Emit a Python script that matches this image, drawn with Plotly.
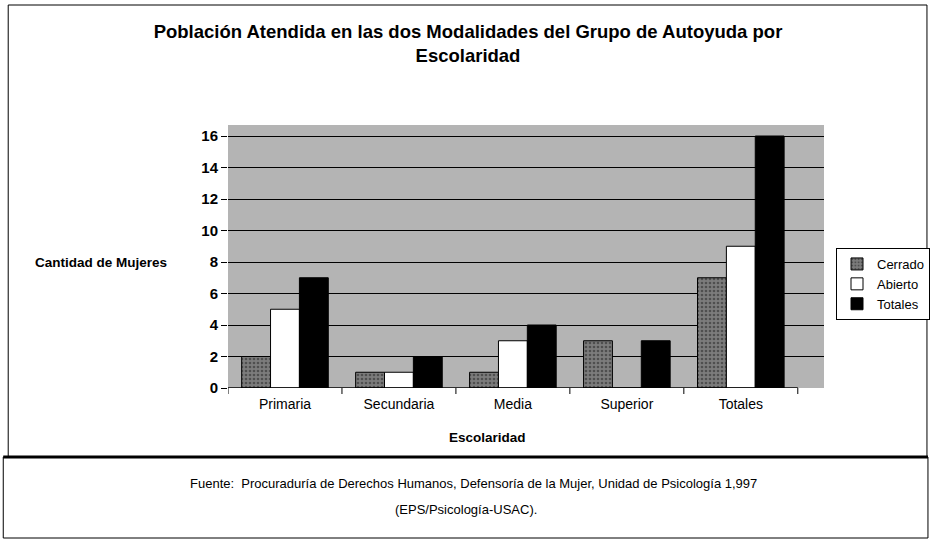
import plotly.graph_objects as go

categories = ["Primaria", "Secundaria", "Media", "Superior", "Totales"]
cerrado = [2, 1, 1, 3, 7]
abierto = [5, 1, 3, 0, 9]
totales = [7, 2, 4, 3, 16]
y_ticks = [0, 2, 4, 6, 8, 10, 12, 14, 16]

W, H = 936, 540
L, R, T, B = 228, 106, 125, 152
PW, PH = W - L - R, H - T - B
Y_TOP = PH / 15.75


def px(x):
    return (x - L) / PW


def py(y):
    return 1 - (y - T) / PH


FONT = "Arial, Liberation Sans, sans-serif"

fig = go.Figure()
fig.add_trace(go.Bar(
    name="Cerrado", x=categories, y=cerrado,
    marker=dict(color="#7c7c7c", line=dict(color="black", width=1),
                pattern=dict(shape=".", fgcolor="#222222", size=4, solidity=0.35)),
))
fig.add_trace(go.Bar(
    name="Abierto", x=categories, y=abierto,
    marker=dict(color="white", line=dict(color="black", width=1)),
))
fig.add_trace(go.Bar(
    name="Totales", x=categories, y=totales,
    marker=dict(color="black", line=dict(color="black", width=1)),
))

shapes = [
    # outer border
    dict(type="rect", xref="paper", yref="paper", x0=px(6), x1=px(934), y0=py(457), y1=py(5),
         line=dict(color="black", width=1), layer="below"),
    # source box
    dict(type="rect", xref="paper", yref="paper", x0=px(1), x1=px(935), y0=py(538), y1=py(457),
         line=dict(color="black", width=1), layer="below"),
    dict(type="line", xref="paper", yref="paper", x0=px(1), x1=px(935), y0=py(457), y1=py(457),
         line=dict(color="black", width=3)),
    # x axis line
    dict(type="line", xref="x", yref="y", x0=-0.5, x1=4.5, y0=0, y1=0,
         line=dict(color="black", width=1.5)),
]
for i in range(6):
    shapes.append(dict(type="line", xref="x", yref="paper", x0=i - 0.5, x1=i - 0.5,
                       y0=py(388), y1=py(394), line=dict(color="black", width=1)))

annotations = [
    dict(text="<b>Cantidad de Mujeres</b>", xref="paper", yref="paper", x=px(100), y=py(262),
         xanchor="center", yanchor="middle",
         showarrow=False, font=dict(size=13.5, color="black", family=FONT)),
    dict(text="<b>Escolaridad</b>", xref="paper", yref="paper", x=px(490), y=py(437),
         xanchor="center", yanchor="middle",
         showarrow=False, font=dict(size=13.5, color="black", family=FONT)),
    dict(text="Fuente:  Procuraduría de Derechos Humanos, Defensoría de la Mujer, Unidad de Psicología 1,997",
         xref="paper", yref="paper", x=px(476), y=py(483), xanchor="center", yanchor="middle",
         showarrow=False, font=dict(size=13, color="black", family=FONT)),
    dict(text="(EPS/Psicología-USAC).", xref="paper", yref="paper", x=px(468), y=py(509),
         xanchor="center", yanchor="middle",
         showarrow=False, font=dict(size=13, color="black", family=FONT)),
]

fig.update_layout(
    width=W, height=H,
    margin=dict(l=L, r=R, t=T, b=B),
    paper_bgcolor="white",
    plot_bgcolor="#b4b4b4",
    barmode="group",
    bargap=0.24,
    bargroupgap=0.0,
    font=dict(family=FONT, color="black"),
    title=dict(
        text="<b>Población Atendida en las dos Modalidades del Grupo de Autoyuda por<br>Escolaridad</b>",
        x=0.5, xref="container", xanchor="center", y=1 - 38 / H, yref="container", yanchor="middle",
        font=dict(size=18.5, color="black", family=FONT),
    ),
    xaxis=dict(
        range=[-0.5, 4.73], showline=False, showgrid=False, ticks="",
        tickfont=dict(size=14, color="black"), ticklabelstandoff=6,
    ),
    yaxis=dict(
        range=[0, Y_TOP], tickvals=y_ticks, showgrid=True, gridcolor="black", gridwidth=1,
        zeroline=False, showline=False, ticks="outside", ticklen=6, tickcolor="black",
        tickfont=dict(size=15, color="black", family=FONT, weight="bold"),
    ),
    legend=dict(
        xref="container", yref="container", x=836 / W, y=1 - 248 / H,
        xanchor="left", yanchor="top", bgcolor="white", bordercolor="black", borderwidth=1,
        font=dict(size=13, color="black", family=FONT), tracegroupgap=2,
        itemwidth=30,
    ),
    shapes=shapes,
    annotations=annotations,
)

fig.write_html("out.html", post_script="document.body.style.margin='0px';",
               config={"displayModeBar": False})
